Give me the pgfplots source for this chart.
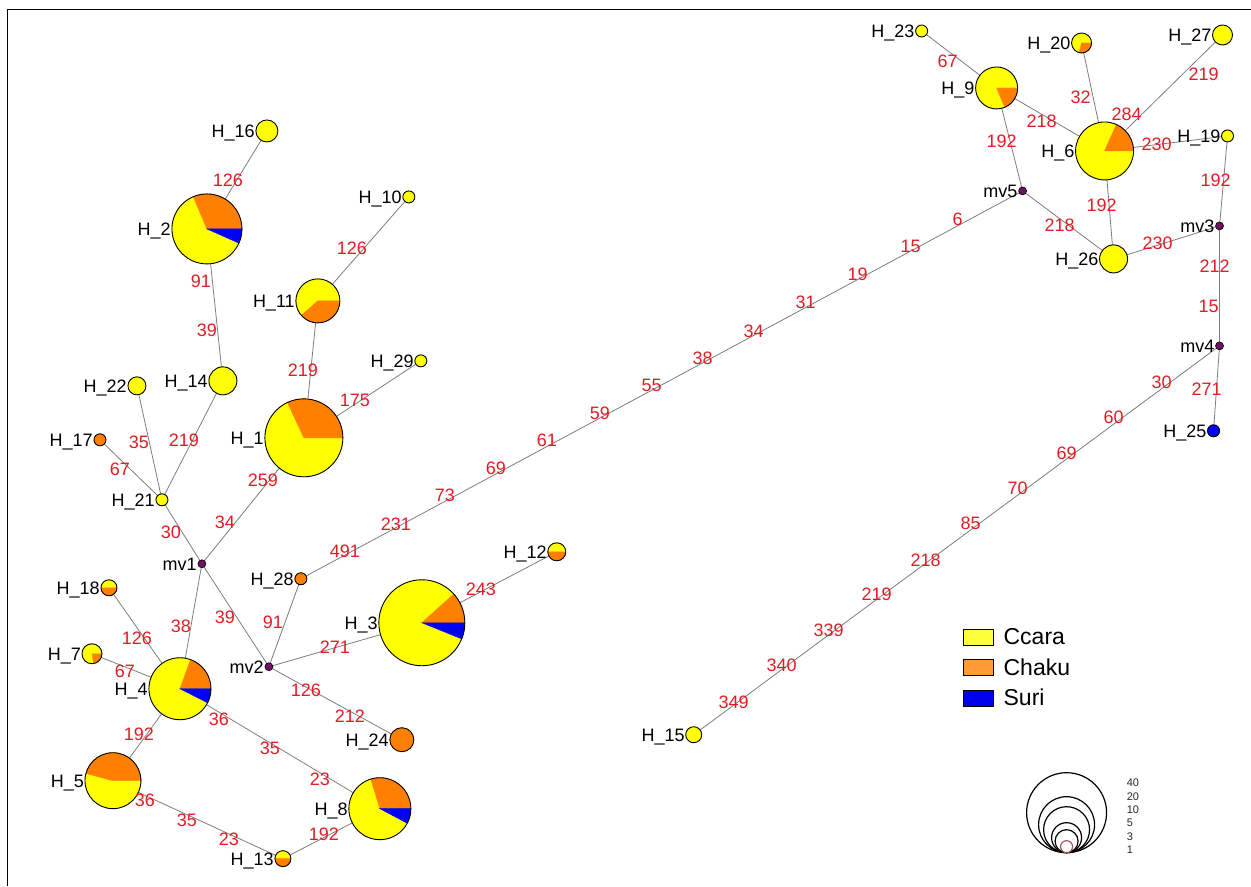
\documentclass[border=0pt]{standalone}
\usepackage{fontspec}
\setmainfont{Liberation Sans}
\usepackage{pgfplots}
\usepackage{pgfplotstable}
\pgfplotsset{compat=1.18}

\definecolor{ccara}{RGB}{255,255,0}
\definecolor{chaku}{RGB}{255,128,0}
\definecolor{suri}{RGB}{0,0,255}
\definecolor{ccaraL}{RGB}{255,255,60}
\definecolor{chakuL}{RGB}{255,155,55}
\definecolor{suriL}{RGB}{0,0,235}
\definecolor{mvcol}{RGB}{112,16,96}
\definecolor{labred}{RGB}{226,28,36}
\definecolor{edgegray}{RGB}{125,125,125}
\definecolor{onecol}{RGB}{160,90,90}

\newcommand\lab{\fontsize{18}{18}\selectfont}

% haplotypes: centre, radius, Chaku sector (oa..ob), Suri sector (ba..bb); rest is Ccara
\pgfplotstableread{
x y r oa ob ba bb
267 131 11 0 0 0 0
207 229 35 0 113 336 360
409 197 6 0 0 0 0
318 301 22 221 360 0 0
223 381 14 0 0 0 0
137 386 9 0 0 0 0
100 440 6 0 360 0 0
162 500 6 0 0 0 0
304 438 39 0 115 0 0
421 361 6 0 0 0 0
301 579 6 0 360 0 0
557 552 9 180 360 0 0
422 623 43 0 42 338 360
402 740 12 0 360 0 0
380 809 31 0 107 332 360
283 859 8 180 360 0 0
109 588 8 180 360 0 0
92 654 10 280 360 0 0
180 689 31 0 70 333 360
113 781 28 0 165 0 0
922 31 6 0 0 0 0
1082 43 10 255 360 0 0
1223 35 10 0 0 0 0
997 88 21 293 360 0 0
1105 151 29 0 66 0 0
1228 136 6 0 0 0 0
1114 259 14 0 0 0 0
1214 431 6 0 0 0 360
694 735 8 0 0 0 0
}\haplotypes

% haplotype names, placed left of each circle
\pgfplotstableread{
x y lab
255 131 H\_16
171 229 H\_2
402 197 H\_10
295 301 H\_11
208 381 H\_14
127 386 H\_22
93 440 H\_17
155 500 H\_21
264 438 H\_1
414 361 H\_29
294 579 H\_28
547 552 H\_12
378 623 H\_3
389 740 H\_24
348 809 H\_8
274 859 H\_13
100 588 H\_18
81 654 H\_7
148 689 H\_4
84 781 H\_5
915 31 H\_23
1071 43 H\_20
1212 35 H\_27
975 88 H\_9
1075 151 H\_6
1221 136 H\_19
1099 259 H\_26
1207 431 H\_25
685 735 H\_15
197 564 mv1
264 667 mv2
1215 226 mv3
1215 346 mv4
1018 191 mv5
}\names

% mutated positions along the links
\pgfplotstableread{
x y lab
228 180 126
201 281 91
207 330 39
352 248 126
303 370 219
355 400 175
139 442 35
184 440 219
120 469 67
171 532 30
225 522 34
263 480 259
345 551 491
396 524 231
445 495 73
496 468 69
547 440 61
600 413 59
652 385 55
703 358 38
754 331 34
806 302 31
858 274 19
911 246 15
958 219 6
181 626 38
225 617 39
273 622 91
335 647 271
481 589 243
306 690 126
350 716 212
137 638 126
125 671 67
139 734 192
219 719 36
270 748 35
320 779 23
145 800 36
187 820 35
229 839 23
324 834 192
948 61 67
1081 97 32
1204 74 219
1127 114 284
1042 121 218
1002 141 192
1157 144 230
1102 205 192
1060 225 218
1158 243 230
1216 180 192
1215 266 212
1209 306 15
1207 389 271
1162 382 30
1114 417 60
1067 453 69
1018 488 70
971 523 85
926 560 218
877 594 219
829 630 339
782 665 340
734 702 349
}\mutations

\begin{document}
\begin{tikzpicture}
\begin{axis}[
  width=1251pt, height=886pt, scale only axis,
  xmin=0, xmax=1251, ymin=0, ymax=886, y dir=reverse,
  hide axis, clip=false,
  legend cell align=left,
  legend style={at={(0.7698,0.2905)}, anchor=north west, draw=none, fill=none,
    inner sep=0pt, row sep=12.5pt, font=\fontsize{23}{23}\selectfont,
    nodes={inner sep=0pt},
    /tikz/every odd column/.append style={column sep=10pt}},
  edge/.style={edgegray, line width=0.8pt, forget plot},
]
% page extent
\addplot[draw=none, mark=none, forget plot] coordinates {(0,0) (1251,886)};
% frame
\addplot[black, line width=1pt, forget plot] coordinates {(8,886) (8,10) (1251,10)};

% links
\addplot[edge] coordinates {(267,131) (207,229)};
\addplot[edge] coordinates {(207,229) (223,381)};
\addplot[edge] coordinates {(409,197) (318,301)};
\addplot[edge] coordinates {(318,301) (304,438)};
\addplot[edge] coordinates {(421,361) (304,438)};
\addplot[edge] coordinates {(223,381) (162,500)};
\addplot[edge] coordinates {(137,386) (162,500)};
\addplot[edge] coordinates {(100,440) (162,500)};
\addplot[edge] coordinates {(162,500) (202,564)};
\addplot[edge] coordinates {(304,438) (202,564)};
\addplot[edge] coordinates {(202,564) (180,689)};
\addplot[edge] coordinates {(202,564) (269,667)};
\addplot[edge] coordinates {(301,579) (269,667)};
\addplot[edge] coordinates {(301,579) (1023,191)};
\addplot[edge] coordinates {(269,667) (422,623)};
\addplot[edge] coordinates {(422,623) (557,552)};
\addplot[edge] coordinates {(269,667) (402,740)};
\addplot[edge] coordinates {(109,588) (180,689)};
\addplot[edge] coordinates {(92,654) (180,689)};
\addplot[edge] coordinates {(180,689) (113,781)};
\addplot[edge] coordinates {(180,689) (380,809)};
\addplot[edge] coordinates {(113,781) (283,859)};
\addplot[edge] coordinates {(283,859) (380,809)};
\addplot[edge] coordinates {(922,31) (997,88)};
\addplot[edge] coordinates {(997,88) (1105,151)};
\addplot[edge] coordinates {(997,88) (1023,191)};
\addplot[edge] coordinates {(1082,43) (1105,151)};
\addplot[edge] coordinates {(1223,35) (1105,151)};
\addplot[edge] coordinates {(1105,151) (1228,136)};
\addplot[edge] coordinates {(1105,151) (1114,259)};
\addplot[edge] coordinates {(1023,191) (1114,259)};
\addplot[edge] coordinates {(1114,259) (1220,226)};
\addplot[edge] coordinates {(1228,136) (1220,226)};
\addplot[edge] coordinates {(1220,226) (1220,346)};
\addplot[edge] coordinates {(1220,346) (1214,431)};
\addplot[edge] coordinates {(1220,346) (694,735)};

% names
\addplot[draw=none, mark=none, forget plot, nodes near coords, point meta=explicit symbolic,
  nodes near coords style={anchor=base east, font=\lab, text=black, inner sep=0pt, yshift=-6.5pt}]
  table[x=x, y=y, meta=lab] {\names};

% pie charts
\addplot[scatter, only marks, mark=*, mark size=0pt, forget plot,
  mark options={draw=none, fill=none},
  visualization depends on={\thisrow{r} \as \pieR},
  visualization depends on={\thisrow{oa} \as \pieOa},
  visualization depends on={\thisrow{ob} \as \pieOb},
  visualization depends on={\thisrow{ba} \as \pieBa},
  visualization depends on={\thisrow{bb} \as \pieBb},
  scatter/@pre marker code/.code={%
    \fill[ccara] (0pt,0pt) circle[radius=\pieR pt];
    \ifdim\pieOa pt<\pieOb pt
      \fill[chaku] (0pt,0pt) -- (\pieOa:\pieR pt) arc[start angle=\pieOa, end angle=\pieOb, radius=\pieR pt] -- cycle;
    \fi
    \ifdim\pieBa pt<\pieBb pt
      \fill[suri] (0pt,0pt) -- (\pieBa:\pieR pt) arc[start angle=\pieBa, end angle=\pieBb, radius=\pieR pt] -- cycle;
    \fi
    \draw[black, line width=0.9pt] (0pt,0pt) circle[radius=\pieR pt];
  },
  scatter/@post marker code/.code={},
] table[x=x, y=y] {\haplotypes};

% median vectors
\addplot[only marks, mark=*, mark size=4pt, forget plot,
  mark options={fill=mvcol, draw=black, line width=0.6pt}]
  coordinates {(202,564) (269,667) (1220,226) (1220,346) (1023,191)};

% mutation labels
\addplot[draw=none, mark=none, forget plot, nodes near coords, point meta=explicit symbolic,
  nodes near coords style={anchor=base, font=\lab, text=labred, inner sep=0pt, yshift=-6.5pt}]
  table[x=x, y=y, meta=lab] {\mutations};

% circle size key
\addplot[scatter, only marks, mark=*, mark size=0pt, forget plot,
  mark options={draw=none, fill=none},
  visualization depends on={\thisrow{r} \as \keyR},
  scatter/@pre marker code/.code={\draw[black, line width=1.2pt] (0pt,0pt) circle[radius=\keyR pt];},
  scatter/@post marker code/.code={},
] table[x=x, y=y] {
x y r
1067 813 40
1067 825 28
1067 830 23
1067 838 15
1067 841.5 11.5
};
\addplot[only marks, mark=*, mark size=6pt, forget plot,
  mark options={fill=white, draw=onecol, line width=1.2pt}]
  coordinates {(1067,847)};
\addplot[draw=none, mark=none, forget plot, nodes near coords, point meta=explicit symbolic,
  nodes near coords style={anchor=base west, font=\fontsize{11}{11}\selectfont, text=black!85, inner sep=0pt, yshift=-4pt}]
  table[x=x, y=y, meta=lab] {
x y lab
1127 783 40
1127 797 20
1127 810 10
1127 823 5
1127 837 3
1127 850 1
};

% legend
\addlegendimage{legend image code/.code={\draw[fill=ccaraL, draw=black, line width=0.8pt] (0pt,-8pt) rectangle (30pt,8pt);}}
\addlegendentry{Ccara}
\addlegendimage{legend image code/.code={\draw[fill=chakuL, draw=black, line width=0.8pt] (0pt,-8pt) rectangle (30pt,8pt);}}
\addlegendentry{Chaku}
\addlegendimage{legend image code/.code={\draw[fill=suriL, draw=black, line width=0.8pt] (0pt,-8pt) rectangle (30pt,8pt);}}
\addlegendentry{Suri}
\end{axis}
\end{tikzpicture}
\end{document}
